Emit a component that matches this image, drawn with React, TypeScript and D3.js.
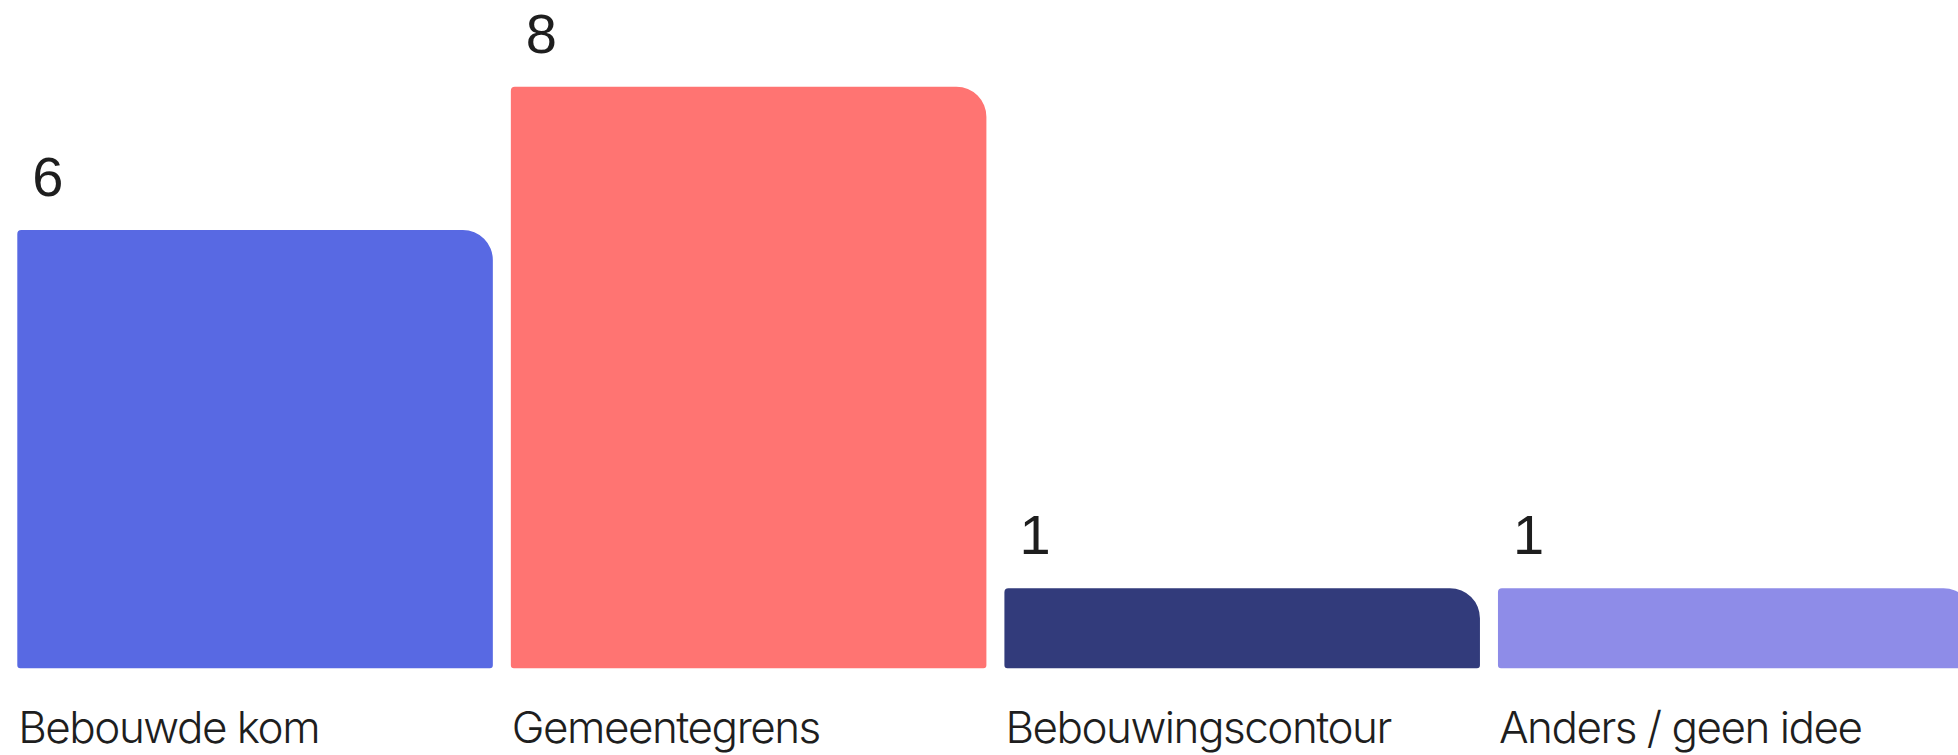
import React, { useEffect, useRef } from "react";
import * as d3 from "d3";

const categories = ["Bebouwde kom", "Gemeentegrens", "Bebouwingscontour", "Anders / geen idee"];
const counts = [6, 8, 1, 1];
const barColors = ["#5869E3", "#FF7472", "#323B7B", "#8E8CE8"];

const width = 1958;
const height = 755;

// rounded rect with separate corner radii (tl, tr, br, bl)
function roundedBar(x: number, y: number, w: number, h: number, r: number[]) {
  const [tl, tr, br, bl] = r;
  const p = d3.path();
  p.moveTo(x + tl, y);
  p.lineTo(x + w - tr, y);
  p.arcTo(x + w, y, x + w, y + tr, tr);
  p.lineTo(x + w, y + h - br);
  p.arcTo(x + w, y + h, x + w - br, y + h, br);
  p.lineTo(x + bl, y + h);
  p.arcTo(x, y + h, x, y + h - bl, bl);
  p.lineTo(x, y + tl);
  p.arcTo(x, y, x + tl, y, tl);
  p.closePath();
  return p.toString();
}

const App = () => {
  const svgRef = useRef<SVGSVGElement>(null);

  useEffect(() => {
    const svg = d3.select(svgRef.current);
    svg.selectAll("*").remove();

    const xScale = d3
      .scaleBand()
      .domain(categories)
      .range([17.3, 1973.5])
      .paddingInner(0.0365)
      .paddingOuter(0);

    const yScale = d3.scaleLinear().domain([0, 8]).range([660, 86.7]);
    const baseline = yScale(0) + 8.3;

    const g = svg.append("g");

    // Bars
    g.selectAll(".bar")
      .data(counts)
      .enter()
      .append("path")
      .attr("class", "bar")
      .attr("d", (d, i) => {
        const x = xScale(categories[i]) as number;
        const y = yScale(d);
        return roundedBar(x, y, xScale.bandwidth(), baseline - y, [4, 30, 3, 3]);
      })
      .attr("fill", (d, i) => barColors[i]);

    // Value labels
    g.selectAll(".value")
      .data(counts)
      .enter()
      .append("text")
      .attr("class", "value")
      .attr("x", (d, i) => (xScale(categories[i]) as number) + 15)
      .attr("y", (d) => yScale(d) - 34)
      .attr("font-family", "'Liberation Sans', Arial, sans-serif")
      .attr("font-size", 56)
      .attr("fill", "#1e1e1e")
      .text((d) => d);

    // Category labels
    g.selectAll(".label")
      .data(categories)
      .enter()
      .append("text")
      .attr("class", "label")
      .attr("x", (d) => (xScale(d) as number) + 1)
      .attr("y", baseline + 75)
      .attr("font-family", "Inter, sans-serif")
      .attr("font-size", 44)
      .attr("font-weight", 350)
      .attr("letter-spacing", -1.5)
      .attr("fill", "#1e1e1e")
      .text((d) => d);
  }, []);

  return (
    <svg
      ref={svgRef}
      width={width}
      height={height}
      style={{ position: "absolute", left: 0, top: 0, background: "#fff" }}
    ></svg>
  );
};

export default App;
